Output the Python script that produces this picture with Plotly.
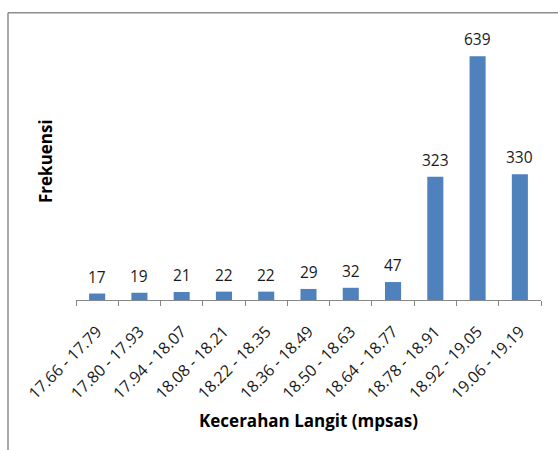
import plotly.graph_objects as go

# Frequency of sky brightness readings per class interval
kelas = [
    "17.66 - 17.79", "17.80 - 17.93", "17.94 - 18.07", "18.08 - 18.21",
    "18.22 - 18.35", "18.36 - 18.49", "18.50 - 18.63", "18.64 - 18.77",
    "18.78 - 18.91", "18.92 - 19.05", "19.06 - 19.19",
]
frekuensi = [17, 19, 21, 22, 22, 29, 32, 47, 323, 639, 330]

BAR = "#4F81BD"
AXIS = "#868686"
FONT = "Open Sans"
TXT = "#1a1a1a"

W, H = 558, 450
L, R, T, B = 76, 17, 33, 150
pw, ph = W - L - R, H - T - B

fig = go.Figure(
    go.Bar(x=kelas, y=frekuensi, marker=dict(color=BAR, line=dict(width=0)),
           hoverinfo="x+y")
)

# value labels above each bar
for k, v in zip(kelas, frekuensi):
    fig.add_annotation(x=k, y=v, text=str(v), showarrow=False,
                       yanchor="bottom", yshift=4,
                       font=dict(family=FONT, size=15.5, color=TXT))

def px_x(p):
    return (p - L) / pw

def px_y(p):
    return 1 - (p - T) / ph

# vertical axis title
fig.add_annotation(xref="paper", yref="paper", x=px_x(45.5), y=px_y(161.5),
                   text="<b>Frekuensi</b>", textangle=-90, showarrow=False,
                   xanchor="center", yanchor="middle",
                   font=dict(family=FONT, size=17, color="#000000"))

# outer chart frame (left and top edges)
fig.add_shape(type="line", xref="paper", yref="paper",
              x0=px_x(8), x1=px_x(8), y0=px_y(12.7), y1=px_y(460),
              line=dict(color="#8C8C8C", width=1.5))
fig.add_shape(type="line", xref="paper", yref="paper",
              x0=px_x(8), x1=px_x(570), y0=px_y(12.7), y1=px_y(12.7),
              line=dict(color="#8C8C8C", width=1.5))

fig.update_layout(
    width=W, height=H,
    margin=dict(l=L, r=R, t=T, b=B, pad=0),
    paper_bgcolor="white", plot_bgcolor="white",
    bargap=0.62,
    showlegend=False,
    font=dict(family=FONT, color="#000000"),
    xaxis=dict(
        tickangle=-45,
        tickfont=dict(family=FONT, size=16, color=TXT),
        ticklabelstandoff=15, ticklabelshift=0,
        showline=True, linecolor=AXIS, linewidth=1,
        ticks="outside", ticklen=5, tickcolor=AXIS, tickson="boundaries",
        showgrid=False,
        title=dict(text="<b>Kecerahan Langit (mpsas)</b>",
                   font=dict(family=FONT, size=17, color="#000000"),
                   standoff=12),
    ),
    yaxis=dict(
        range=[0, 700], visible=True, showticklabels=False, showgrid=False,
        zeroline=False, showline=False, ticks="",
    ),
)

fig.write_html("out.html")
